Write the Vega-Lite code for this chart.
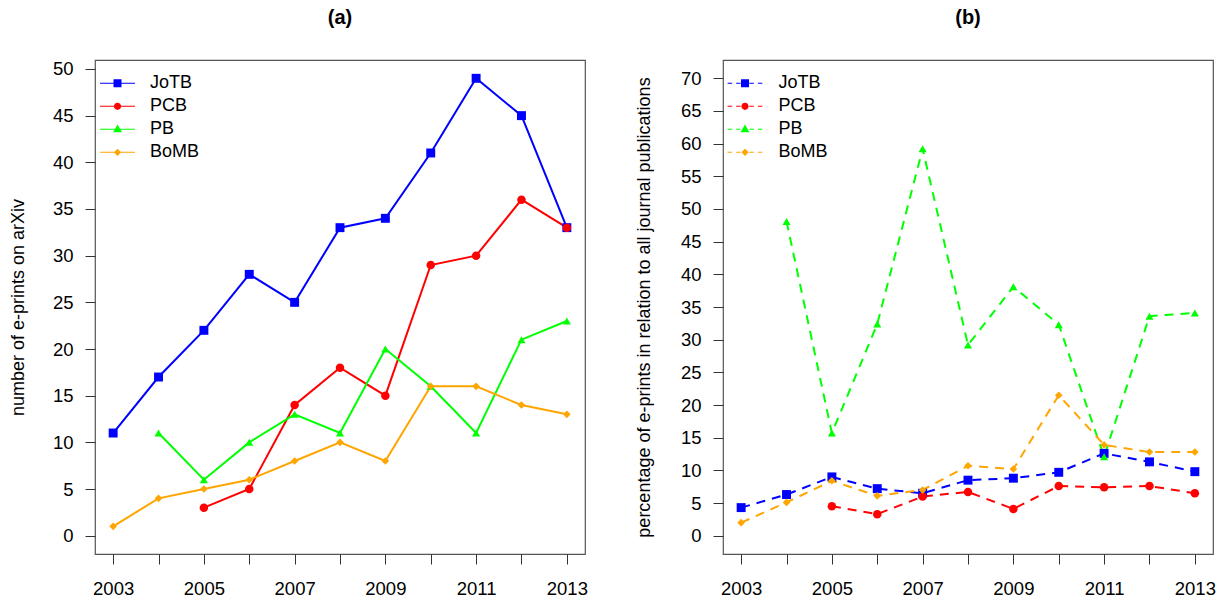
{
  "$schema": "https://vega.github.io/schema/vega-lite/v6.json",
  "autosize": {"type": "pad"},
  "padding": {"left": 8, "top": 7, "right": 4, "bottom": 0},
  "background": "white",
  "bounds": "flush",
  "spacing": 138,
  "config": {
    "view": {"stroke": "#555", "strokeWidth": 1.2},
    "axis": {"labelFont": "Liberation Sans", "titleFont": "Liberation Sans", "labelFontSize": 18.5, "titleFontSize": 18, "labelColor": "#000", "titleColor": "#000", "titleFontWeight": "normal", "tickColor": "#333", "tickSize": 10, "domain": false, "grid": false},
    "title": {"font": "Liberation Sans", "fontSize": 20, "fontWeight": "bold", "color": "#000", "anchor": "middle", "offset": 32},
    "legend": {"labelFont": "Liberation Sans", "labelFontSize": 18, "labelColor": "#000", "padding": 0}
  },
  "datasets": {
    "counts": [
      {"year": 2003, "series": "JoTB", "value": 11}, {"year": 2004, "series": "JoTB", "value": 17}, {"year": 2005, "series": "JoTB", "value": 22}, {"year": 2006, "series": "JoTB", "value": 28}, {"year": 2007, "series": "JoTB", "value": 25}, {"year": 2008, "series": "JoTB", "value": 33}, {"year": 2009, "series": "JoTB", "value": 34}, {"year": 2010, "series": "JoTB", "value": 41}, {"year": 2011, "series": "JoTB", "value": 49}, {"year": 2012, "series": "JoTB", "value": 45}, {"year": 2013, "series": "JoTB", "value": 33},
      {"year": 2005, "series": "PCB", "value": 3}, {"year": 2006, "series": "PCB", "value": 5}, {"year": 2007, "series": "PCB", "value": 14}, {"year": 2008, "series": "PCB", "value": 18}, {"year": 2009, "series": "PCB", "value": 15}, {"year": 2010, "series": "PCB", "value": 29}, {"year": 2011, "series": "PCB", "value": 30}, {"year": 2012, "series": "PCB", "value": 36}, {"year": 2013, "series": "PCB", "value": 33},
      {"year": 2004, "series": "PB", "value": 11}, {"year": 2005, "series": "PB", "value": 6}, {"year": 2006, "series": "PB", "value": 10}, {"year": 2007, "series": "PB", "value": 13}, {"year": 2008, "series": "PB", "value": 11}, {"year": 2009, "series": "PB", "value": 20}, {"year": 2010, "series": "PB", "value": 16}, {"year": 2011, "series": "PB", "value": 11}, {"year": 2012, "series": "PB", "value": 21}, {"year": 2013, "series": "PB", "value": 23},
      {"year": 2003, "series": "BoMB", "value": 1}, {"year": 2004, "series": "BoMB", "value": 4}, {"year": 2005, "series": "BoMB", "value": 5}, {"year": 2006, "series": "BoMB", "value": 6}, {"year": 2007, "series": "BoMB", "value": 8}, {"year": 2008, "series": "BoMB", "value": 10}, {"year": 2009, "series": "BoMB", "value": 8}, {"year": 2010, "series": "BoMB", "value": 16}, {"year": 2011, "series": "BoMB", "value": 16}, {"year": 2012, "series": "BoMB", "value": 14}, {"year": 2013, "series": "BoMB", "value": 13}
    ],
    "pct": [
      {"year": 2003, "series": "JoTB", "value": 4.3}, {"year": 2004, "series": "JoTB", "value": 6.3}, {"year": 2005, "series": "JoTB", "value": 9.0}, {"year": 2006, "series": "JoTB", "value": 7.2}, {"year": 2007, "series": "JoTB", "value": 6.5}, {"year": 2008, "series": "JoTB", "value": 8.5}, {"year": 2009, "series": "JoTB", "value": 8.8}, {"year": 2010, "series": "JoTB", "value": 9.7}, {"year": 2011, "series": "JoTB", "value": 12.6}, {"year": 2012, "series": "JoTB", "value": 11.3}, {"year": 2013, "series": "JoTB", "value": 9.8},
      {"year": 2005, "series": "PCB", "value": 4.5}, {"year": 2006, "series": "PCB", "value": 3.3}, {"year": 2007, "series": "PCB", "value": 6.0}, {"year": 2008, "series": "PCB", "value": 6.7}, {"year": 2009, "series": "PCB", "value": 4.1}, {"year": 2010, "series": "PCB", "value": 7.6}, {"year": 2011, "series": "PCB", "value": 7.4}, {"year": 2012, "series": "PCB", "value": 7.6}, {"year": 2013, "series": "PCB", "value": 6.5},
      {"year": 2004, "series": "PB", "value": 48.1}, {"year": 2005, "series": "PB", "value": 15.7}, {"year": 2006, "series": "PB", "value": 32.4}, {"year": 2007, "series": "PB", "value": 59.2}, {"year": 2008, "series": "PB", "value": 29.2}, {"year": 2009, "series": "PB", "value": 38.1}, {"year": 2010, "series": "PB", "value": 32.3}, {"year": 2011, "series": "PB", "value": 12.1}, {"year": 2012, "series": "PB", "value": 33.6}, {"year": 2013, "series": "PB", "value": 34.1},
      {"year": 2003, "series": "BoMB", "value": 2.0}, {"year": 2004, "series": "BoMB", "value": 5.1}, {"year": 2005, "series": "BoMB", "value": 8.4}, {"year": 2006, "series": "BoMB", "value": 6.1}, {"year": 2007, "series": "BoMB", "value": 7.0}, {"year": 2008, "series": "BoMB", "value": 10.7}, {"year": 2009, "series": "BoMB", "value": 10.2}, {"year": 2010, "series": "BoMB", "value": 21.5}, {"year": 2011, "series": "BoMB", "value": 13.9}, {"year": 2012, "series": "BoMB", "value": 12.8}, {"year": 2013, "series": "BoMB", "value": 12.8}
    ]
  },
  "hconcat": [
    {
      "width": 490, "height": 494,
      "title": "(a)",
      "data": {"name": "counts"},
      "encoding": {
        "x": {"field": "year", "type": "quantitative", "scale": {"domain": [2002.6, 2013.4], "nice": false, "zero": false},
              "axis": {"title": null, "values": [2003, 2004, 2005, 2006, 2007, 2008, 2009, 2010, 2011, 2012, 2013], "format": "d", "labelExpr": "datum.value % 2 == 1 ? datum.label : ''", "labelPadding": 15, "labelFlush": false, "labelOverlap": false}},
        "y": {"field": "value", "type": "quantitative", "scale": {"domain": [-1.96, 50.96], "nice": false, "zero": false},
              "axis": {"title": "number of e-prints on arXiv", "values": [0, 5, 10, 15, 20, 25, 30, 35, 40, 45, 50], "labelPadding": 12, "titlePadding": 25, "labelFlush": false, "labelOverlap": false}}
      },
      "resolve": {"scale": {"shape": "independent", "fill": "independent"}},
      "layer": [
        {"mark": {"type": "line", "strokeWidth": 2},
         "encoding": {"color": {"field": "series", "type": "nominal", "scale": {"domain": ["JoTB", "PCB", "PB", "BoMB"], "range": ["#0000FF", "#FF0000", "#00FF00", "#FFA500"]}, "legend": null}}},
        {"mark": {"type": "point", "filled": true, "opacity": 1},
         "encoding": {"color": {"field": "series", "type": "nominal", "legend": null},
                      "size": {"field": "series", "type": "nominal", "scale": {"domain": ["JoTB", "PCB", "PB", "BoMB"], "range": [80, 58, 145, 62]}, "legend": null},
                      "shape": {"field": "series", "type": "nominal", "scale": {"domain": ["JoTB", "PCB", "PB", "BoMB"], "range": ["square", "circle", "triangle-up", "diamond"]}, "legend": null}}},
        {"mark": {"type": "point", "filled": true, "opacity": 0, "size": 729},
         "encoding": {
           "fill": {"field": "series", "type": "nominal", "scale": {"domain": ["JoTB", "PCB", "PB", "BoMB"], "range": ["#0000FF", "#FF0000", "#00FF00", "#FFA500"]},
                    "legend": {"title": null, "orient": "none", "legendX": 9, "legendY": 9.8, "symbolSize": 729, "symbolOpacity": 1, "symbolStrokeWidth": 0, "labelOffset": 19, "rowPadding": 0}},
           "shape": {"field": "series", "type": "nominal", "scale": {"domain": ["JoTB", "PCB", "PB", "BoMB"], "range": [
             "M-1.296,-0.037H1.296V0.037H-1.296Z M-0.296,-0.296H0.296V0.296H-0.296Z",
             "M-1.296,-0.037H1.296V0.037H-1.296Z M0.267,0A0.267,0.267,0,1,1,-0.267,0A0.267,0.267,0,1,1,0.267,0Z",
             "M-1.296,-0.037H1.296V0.037H-1.296Z M0,-0.35L0.33,0.22L-0.33,0.22Z",
             "M-1.296,-0.037H1.296V0.037H-1.296Z M0,-0.27L0.27,0L0,0.27L-0.27,0Z"]},
                    "legend": {"title": null, "orient": "none", "legendX": 9, "legendY": 9.8, "symbolSize": 729, "symbolOpacity": 1, "symbolStrokeWidth": 0, "labelOffset": 19, "rowPadding": 0}}
         }}
      ]
    },
    {
      "width": 490, "height": 494,
      "title": "(b)",
      "data": {"name": "pct"},
      "encoding": {
        "x": {"field": "year", "type": "quantitative", "scale": {"domain": [2002.6, 2013.4], "nice": false, "zero": false},
              "axis": {"title": null, "values": [2003, 2004, 2005, 2006, 2007, 2008, 2009, 2010, 2011, 2012, 2013], "format": "d", "labelExpr": "datum.value % 2 == 1 ? datum.label : ''", "labelPadding": 15, "labelFlush": false, "labelOverlap": false}},
        "y": {"field": "value", "type": "quantitative", "scale": {"domain": [-2.8, 72.8], "nice": false, "zero": false},
              "axis": {"title": "percentage of e-prints in relation to all journal publications", "values": [0, 5, 10, 15, 20, 25, 30, 35, 40, 45, 50, 55, 60, 65, 70], "labelPadding": 12, "titlePadding": 27, "labelFlush": false, "labelOverlap": false}}
      },
      "resolve": {"scale": {"shape": "independent", "fill": "independent"}},
      "layer": [
        {"mark": {"type": "line", "strokeWidth": 2, "strokeDash": [9, 7]},
         "encoding": {"color": {"field": "series", "type": "nominal", "scale": {"domain": ["JoTB", "PCB", "PB", "BoMB"], "range": ["#0000FF", "#FF0000", "#00FF00", "#FFA500"]}, "legend": null}}},
        {"mark": {"type": "point", "filled": true, "opacity": 1},
         "encoding": {"color": {"field": "series", "type": "nominal", "legend": null},
                      "size": {"field": "series", "type": "nominal", "scale": {"domain": ["JoTB", "PCB", "PB", "BoMB"], "range": [80, 58, 145, 62]}, "legend": null},
                      "shape": {"field": "series", "type": "nominal", "scale": {"domain": ["JoTB", "PCB", "PB", "BoMB"], "range": ["square", "circle", "triangle-up", "diamond"]}, "legend": null}}},
        {"mark": {"type": "point", "filled": true, "opacity": 0, "size": 729},
         "encoding": {
           "fill": {"field": "series", "type": "nominal", "scale": {"domain": ["JoTB", "PCB", "PB", "BoMB"], "range": ["#0000FF", "#FF0000", "#00FF00", "#FFA500"]},
                    "legend": {"title": null, "orient": "none", "legendX": 8.5, "legendY": 9.8, "symbolSize": 729, "symbolOpacity": 1, "symbolStrokeWidth": 0, "labelOffset": 20, "rowPadding": 0}},
           "shape": {"field": "series", "type": "nominal", "scale": {"domain": ["JoTB", "PCB", "PB", "BoMB"], "range": [
             "M-1.285,-0.037H-0.952V0.037H-1.285Z M-0.656,-0.037H-0.322V0.037H-0.656Z M0.322,-0.037H0.656V0.037H0.322Z M0.952,-0.037H1.285V0.037H0.952Z M-0.296,-0.296H0.296V0.296H-0.296Z",
             "M-1.285,-0.037H-0.952V0.037H-1.285Z M-0.656,-0.037H-0.322V0.037H-0.656Z M0.322,-0.037H0.656V0.037H0.322Z M0.952,-0.037H1.285V0.037H0.952Z M0.267,0A0.267,0.267,0,1,1,-0.267,0A0.267,0.267,0,1,1,0.267,0Z",
             "M-1.285,-0.037H-0.952V0.037H-1.285Z M-0.656,-0.037H-0.322V0.037H-0.656Z M0.322,-0.037H0.656V0.037H0.322Z M0.952,-0.037H1.285V0.037H0.952Z M0,-0.35L0.33,0.22L-0.33,0.22Z",
             "M-1.285,-0.037H-0.952V0.037H-1.285Z M-0.656,-0.037H-0.322V0.037H-0.656Z M0.322,-0.037H0.656V0.037H0.322Z M0.952,-0.037H1.285V0.037H0.952Z M0,-0.27L0.27,0L0,0.27L-0.27,0Z"]},
                    "legend": {"title": null, "orient": "none", "legendX": 8.5, "legendY": 9.8, "symbolSize": 729, "symbolOpacity": 1, "symbolStrokeWidth": 0, "labelOffset": 20, "rowPadding": 0}}
         }}
      ]
    }
  ]
}
